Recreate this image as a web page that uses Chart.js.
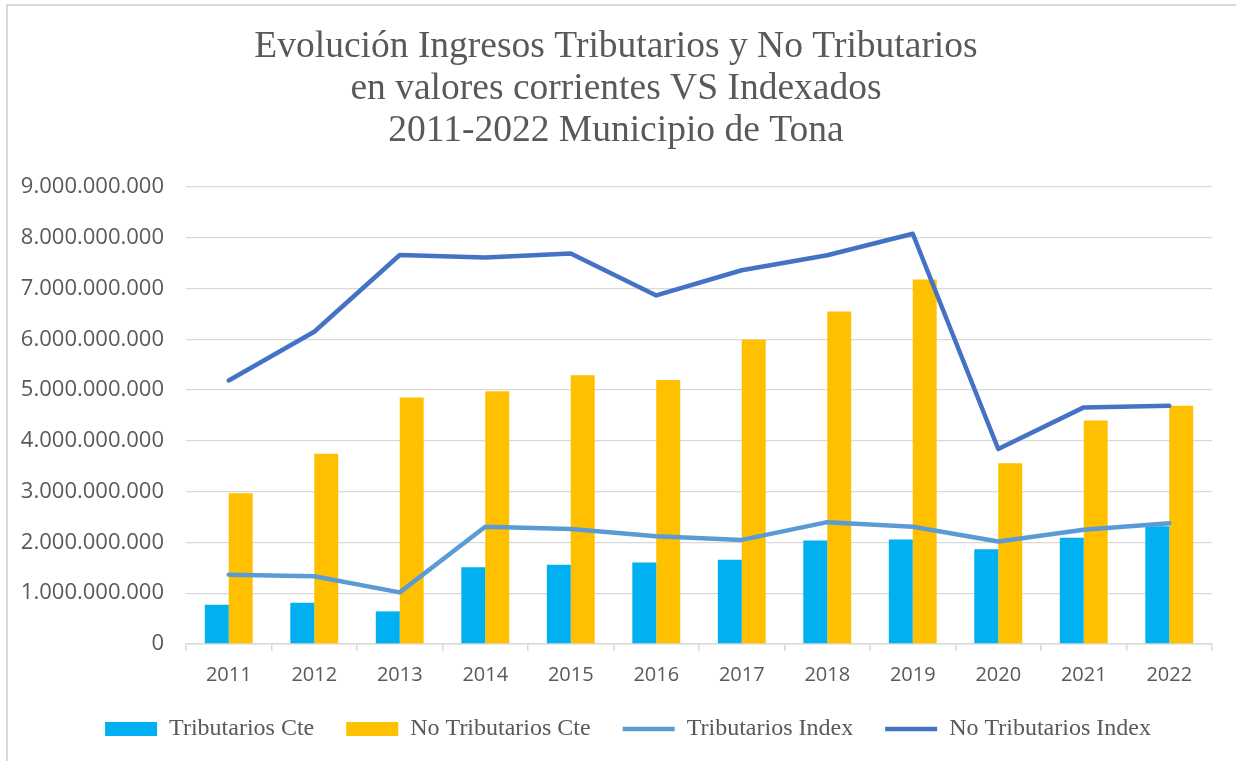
<!DOCTYPE html>
<html>
<head>
<meta charset="utf-8">
<script src="https://cdn.jsdelivr.net/npm/chart.js@4.4.1/dist/chart.umd.min.js"></script>
<style>
  html, body { margin: 0; padding: 0; background: #ffffff; }
  #wrap { position: relative; width: 1236px; height: 761px; overflow: hidden; }
  #frame { position: absolute; left: 6px; top: 4px; width: 1300px; height: 800px; border: 2px solid #d9d9d9; box-sizing: border-box; pointer-events: none; }
  canvas { position: absolute; left: 0; top: 0; }
</style>
</head>
<body>
<div id="wrap">
  <canvas id="c" width="1236" height="761"></canvas>
  <div id="frame"></div>
</div>
<script>
const titleLines = [
  'Evolución Ingresos Tributarios y No Tributarios',
  'en valores corrientes VS Indexados',
  '2011-2022 Municipio de Tona'
];
const years = ['2011','2012','2013','2014','2015','2016','2017','2018','2019','2020','2021','2022'];
const seriesNames = ['Tributarios Cte', 'No Tributarios Cte', 'Tributarios Index', 'No Tributarios Index'];
const tributariosCte   = [775000000, 810000000, 643000000, 1510000000, 1563000000, 1603000000, 1660000000, 2036000000, 2060000000, 1865000000, 2090000000, 2320000000];
const noTributariosCte = [2970000000, 3745000000, 4855000000, 4980000000, 5295000000, 5200000000, 5990000000, 6550000000, 7180000000, 3560000000, 4400000000, 4690000000];
const tributariosIndex = [1366000000, 1333000000, 1017000000, 2310000000, 2267000000, 2120000000, 2050000000, 2400000000, 2310000000, 2020000000, 2250000000, 2380000000];
const noTributariosIndex = [5190000000, 6150000000, 7660000000, 7610000000, 7690000000, 6865000000, 7360000000, 7655000000, 8080000000, 3840000000, 4660000000, 4690000000];
const yMin = 0, yMax = 9000000000, yStep = 1000000000;

function fmt(v) {
  return String(Math.round(v)).replace(/\B(?=(\d{3})+(?!\d))/g, '.');
}

const grey = '#595959';
const gridGrey = '#d9d9d9';
const LEGEND_TRIM = 14;
const LEGEND_SHIFT = 14;
const LEGEND_XSHIFT = 12;

const legendShift = {
  id: 'legendShift',
  afterLayout(chart) {
    const lg = chart.legend;
    if (lg) {
      lg.top -= LEGEND_SHIFT; lg.height += LEGEND_SHIFT;
      lg.left += LEGEND_XSHIFT; lg.right += LEGEND_XSHIFT;
    }
  }
};

const chart = new Chart(document.getElementById('c'), {
  type: 'bar',
  plugins: [legendShift],
  data: {
    labels: years,
    datasets: [
      { type: 'bar', label: seriesNames[0], data: tributariosCte, backgroundColor: '#00B0F0', borderWidth: 0, order: 2, pointStyle: 'rect' },
      { type: 'bar', label: seriesNames[1], data: noTributariosCte, backgroundColor: '#FFC000', borderWidth: 0, order: 2, pointStyle: 'rect' },
      { type: 'line', label: seriesNames[2], data: tributariosIndex, borderColor: '#5B9BD5', backgroundColor: '#5B9BD5', borderWidth: 4.5, pointRadius: 0, tension: 0, borderCapStyle: 'round', borderJoinStyle: 'round', order: 1, pointStyle: 'line' },
      { type: 'line', label: seriesNames[3], data: noTributariosIndex, borderColor: '#4472C4', backgroundColor: '#4472C4', borderWidth: 4.5, pointRadius: 0, tension: 0, borderCapStyle: 'round', borderJoinStyle: 'round', order: 0, pointStyle: 'line' }
    ]
  },
  options: {
    responsive: false,
    animation: false,
    datasets: { bar: { categoryPercentage: 0.56, barPercentage: 1.0 } },
    layout: { padding: { left: 20, right: 24, top: 0, bottom: 10 } },
    plugins: {
      tooltip: { enabled: false },
      title: {
        display: true,
        text: titleLines,
        color: grey,
        font: { family: '"Liberation Serif", "Times New Roman", serif', size: 37.5, weight: 'normal', lineHeight: 1.12 },
        padding: { top: 26, bottom: 35 }
      },
      legend: {
        position: 'bottom',
        labels: {
          usePointStyle: true,
          pointStyleWidth: 52,
          boxHeight: 14,
          padding: 32,
          color: grey,
          font: { family: '"Liberation Serif", "Times New Roman", serif', size: 24 },
          sort: (a, b) => a.datasetIndex - b.datasetIndex
        }
      }
    },
    scales: {
      x: {
        offset: true,
        grid: { offset: true, drawOnChartArea: false, drawTicks: true, tickLength: 7, color: gridGrey, lineWidth: 1.5 },
        border: { display: true, color: gridGrey, width: 1.5 },
        ticks: { color: grey, font: { family: '"Open Sans", sans-serif', size: 20 }, padding: 12, maxRotation: 0 }
      },
      y: {
        min: yMin, max: yMax,
        afterFit: (scale) => { scale.width = 166; },
        grid: { color: gridGrey, lineWidth: 1.3, drawTicks: false },
        border: { display: false },
        ticks: { stepSize: yStep, color: grey, font: { family: '"Open Sans", sans-serif', size: 22 }, padding: 22, callback: (v) => fmt(v) }
      }
    }
  }
});
const lgBox = chart.legend;
const origFit = lgBox.fit.bind(lgBox);
lgBox.fit = function () { origFit(); this.height -= LEGEND_TRIM; };
chart.update();
</script>
</body>
</html>
